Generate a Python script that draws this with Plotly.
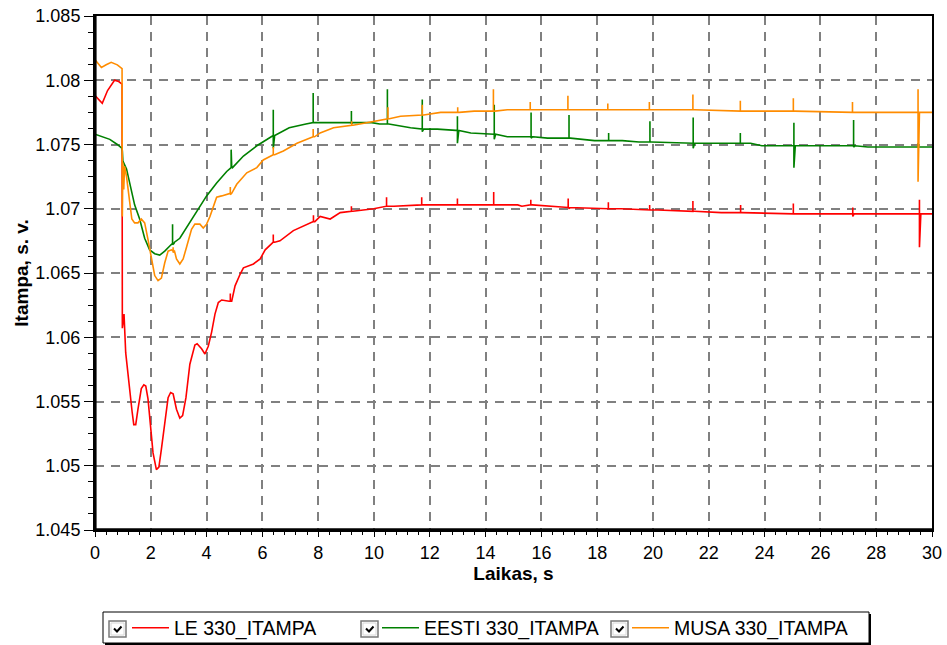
import plotly.graph_objects as go

# ---------------------------------------------------------------- data
# LE 330 bus voltage, p.u.
le_t = [0, 0.26, 0.45, 0.7, 0.85, 0.97, 0.98, 1.04, 1.10, 1.18, 1.24, 1.33, 1.39, 1.46,
        1.54, 1.66, 1.75, 1.82, 1.90, 1.99, 2.08, 2.20, 2.29, 2.38, 2.50, 2.62, 2.71,
        2.80, 2.92, 3.04, 3.14, 3.26, 3.40, 3.58, 3.66, 3.82, 3.94, 4.06, 4.18, 4.30,
        4.42, 4.54, 4.81, 5.02, 5.20, 5.32, 5.68, 5.92, 6.10, 6.39, 6.63, 7.11, 7.41,
        7.83, 8.07, 8.43, 8.79, 9.63, 9.99, 10.71, 11.91, 15.15, 15.3, 16.82, 17.0,
        18.86, 20.17, 22.45, 30]
le_v = [1.0788, 1.0782, 1.0792, 1.0800, 1.0799, 1.0797, 1.0607, 1.0618, 1.0588, 1.0571,
        1.0557, 1.0542, 1.0532, 1.0532, 1.0544, 1.0560, 1.0563, 1.0562, 1.0552, 1.0528,
        1.0510, 1.0497, 1.0499, 1.0513, 1.0534, 1.0553, 1.0557, 1.0556, 1.0544, 1.0537,
        1.0539, 1.0553, 1.0579, 1.0594, 1.0595, 1.0591, 1.0587, 1.0593, 1.0604, 1.0618,
        1.0627, 1.0629, 1.0628, 1.0640, 1.0649, 1.0654, 1.0657, 1.0661, 1.0668, 1.0674,
        1.0675, 1.0683, 1.0686, 1.0690, 1.0694, 1.0692, 1.0697, 1.0699, 1.0700, 1.0702,
        1.0703, 1.0703, 1.0702, 1.0701, 1.0700, 1.0700, 1.0699, 1.0697, 1.0696]
# switching transients: time, level, peak, trough
le_sp_t = [4.85, 6.39, 7.83, 9.19, 10.45, 11.71, 12.99, 14.29, 15.62, 16.96, 18.40,
           19.88, 21.43, 23.14, 25.03, 27.16, 29.55]
le_sp_b = [1.0628, 1.0674, 1.0690, 1.0698, 1.0702, 1.0703, 1.0703, 1.0703, 1.0703,
           1.0701, 1.0700, 1.0699, 1.0698, 1.0697, 1.0696, 1.0696, 1.0696]
le_sp_h = [1.0634, 1.0680, 1.0695, 1.0702, 1.0709, 1.0709, 1.0708, 1.0713, 1.0707,
           1.0708, 1.0705, 1.0703, 1.0706, 1.0703, 1.0704, 1.0701, 1.0707]
le_sp_l = [1.0628, 1.0674, 1.0690, 1.0698, 1.0702, 1.0703, 1.0703, 1.0703, 1.0703,
           1.0701, 1.0700, 1.0699, 1.0698, 1.0697, 1.0696, 1.0694, 1.0670]

# EESTI 330 bus voltage, p.u.
ee_t = [0, 0.53, 0.8, 0.97, 0.98, 1.0, 1.13, 1.24, 1.42, 1.60, 1.78, 1.96, 2.14, 2.32,
        2.50, 2.68, 2.85, 3.04, 3.28, 3.52, 3.76, 4.00, 4.36, 4.72, 4.90, 5.32, 5.80,
        6.39, 6.96, 7.56, 8.07, 9.63, 9.92, 10.2, 10.77, 11.31, 11.73, 12.27, 12.93,
        13.47, 14.3, 14.78, 15.7, 16.22, 17.9, 18.9, 19.5, 22.3, 23.5, 23.9, 26.8, 27.7, 30]
ee_v = [1.0758, 1.0754, 1.0750, 1.0747, 1.0745, 1.0737, 1.0731, 1.0720, 1.0703, 1.0692,
        1.0677, 1.0668, 1.0665, 1.0664, 1.0667, 1.0671, 1.0674, 1.0677, 1.0685, 1.0694,
        1.0702, 1.0710, 1.0720, 1.0729, 1.0733, 1.0741, 1.0749, 1.0757, 1.0763, 1.0766,
        1.0767, 1.0767, 1.0767, 1.0766, 1.0765, 1.0763, 1.0762, 1.0762, 1.0761, 1.0759,
        1.0758, 1.0756, 1.0756, 1.0755, 1.0753, 1.0753, 1.0752, 1.0751, 1.0751, 1.0749,
        1.0749, 1.0748, 1.0748]
ee_sp_t = [2.78, 4.88, 6.39, 7.82, 9.19, 10.48, 11.73, 12.99, 14.31, 15.63, 16.99,
           18.41, 19.89, 21.44, 23.13, 25.05, 27.19, 29.50]
ee_sp_b = [1.0673, 1.0732, 1.0757, 1.0767, 1.0767, 1.0766, 1.0762, 1.0761, 1.0758,
           1.0756, 1.0755, 1.0753, 1.0752, 1.0751, 1.0751, 1.0749, 1.0749, 1.0748]
ee_sp_h = [1.0688, 1.0746, 1.0777, 1.0790, 1.0776, 1.0793, 1.0785, 1.0772, 1.0781,
           1.0775, 1.0773, 1.0759, 1.0768, 1.0771, 1.0759, 1.0767, 1.0769, 1.0751]
ee_sp_l = [1.0672, 1.0732, 1.0747, 1.0767, 1.0766, 1.0766, 1.0760, 1.0751, 1.0754,
           1.0755, 1.0755, 1.0753, 1.0752, 1.0747, 1.0751, 1.0732, 1.0748, 1.0748]

# MUSA 330 bus voltage, p.u.
mu_t = [0, 0.1, 0.23, 0.4, 0.58, 0.8, 0.97, 0.98, 1.0, 1.03, 1.06, 1.13, 1.2, 1.32,
        1.42, 1.54, 1.66, 1.78, 1.90, 2.02, 2.14, 2.26, 2.38, 2.50, 2.62, 2.74, 2.92,
        3.04, 3.16, 3.28, 3.46, 3.58, 3.76, 3.88, 4.00, 4.12, 4.24, 4.36, 4.54, 4.72,
        5.08, 5.44, 5.80, 6.03, 6.39, 6.75, 7.24, 7.71, 8.07, 8.55, 9.15, 9.75, 10.45,
        10.95, 11.73, 12.39, 13.59, 14.78, 21.5, 23.2, 30]
mu_v = [1.0816, 1.0813, 1.0810, 1.0812, 1.0814, 1.0812, 1.0809, 1.0694, 1.0736, 1.0715,
        1.0733, 1.0725, 1.0712, 1.0692, 1.0689, 1.0689, 1.0692, 1.0689, 1.0676, 1.0661,
        1.0648, 1.0644, 1.0646, 1.0658, 1.0667, 1.0668, 1.0661, 1.0657, 1.0661, 1.0670,
        1.0684, 1.0688, 1.0688, 1.0685, 1.0688, 1.0694, 1.0702, 1.0709, 1.0710, 1.0711,
        1.0719, 1.0728, 1.0732, 1.0738, 1.0742, 1.0745, 1.0751, 1.0755, 1.0759, 1.0763,
        1.0765, 1.0767, 1.0770, 1.0772, 1.0773, 1.0775, 1.0776, 1.0777, 1.0777, 1.0776,
        1.0775]
mu_sp_t = [2.80, 4.85, 6.39, 7.82, 9.20, 10.50, 11.73, 13.00, 14.28, 15.60, 16.95,
           18.38, 19.87, 21.43, 23.13, 25.03, 27.15, 29.50]
mu_sp_b = [1.0667, 1.0712, 1.0742, 1.0756, 1.0765, 1.0770, 1.0773, 1.0775, 1.0776,
           1.0777, 1.0777, 1.0777, 1.0777, 1.0777, 1.0776, 1.0776, 1.0775, 1.0775]
mu_sp_h = [1.0670, 1.0717, 1.0748, 1.0762, 1.0768, 1.0779, 1.0781, 1.0779, 1.0793,
           1.0783, 1.0788, 1.0782, 1.0783, 1.0789, 1.0784, 1.0786, 1.0783, 1.0793]
mu_sp_l = [1.0666, 1.0711, 1.0742, 1.0756, 1.0765, 1.0770, 1.0773, 1.0775, 1.0776,
           1.0777, 1.0777, 1.0777, 1.0777, 1.0777, 1.0776, 1.0776, 1.0775, 1.0721]

series_names = ["LE 330_ITAMPA", "EESTI 330_ITAMPA", "MUSA 330_ITAMPA"]
series_colors = ["#ff0000", "#008000", "#ff8c00"]

x_ticks = list(range(0, 31, 2))
y_ticks = [1.045, 1.05, 1.055, 1.06, 1.065, 1.07, 1.075, 1.08, 1.085]
y_ticktext = ["1.045", "1.05", "1.055", "1.06", "1.065", "1.07", "1.075", "1.08", "1.085"]


def with_spikes(t, v, st, sb, sh, sl):
    """Merge the smooth trajectory with vertical switching spikes."""
    pts = [(a, 0, i, b) for i, (a, b) in enumerate(zip(t, v))]
    for k, (a, b, h, l) in enumerate(zip(st, sb, sh, sl)):
        pts += [(a, 1, k * 4 + 0, b), (a, 1, k * 4 + 1, h),
                (a, 1, k * 4 + 2, l), (a + 0.05, 1, k * 4 + 3, b)]
    pts.sort(key=lambda p: (p[0], p[1], p[2]))
    return [p[0] for p in pts], [p[3] for p in pts]


data = [
    with_spikes(le_t, le_v, le_sp_t, le_sp_b, le_sp_h, le_sp_l),
    with_spikes(ee_t, ee_v, ee_sp_t, ee_sp_b, ee_sp_h, ee_sp_l),
    with_spikes(mu_t, mu_v, mu_sp_t, mu_sp_b, mu_sp_h, mu_sp_l),
]

# ---------------------------------------------------------------- figure
W, H = 947, 645
L, R, T, B = 95, 932, 16, 530          # plot area in pixels


def px(x):
    return (x - L) / (R - L)


def py(y):
    return (B - y) / (B - T)


FONT = "Liberation Sans, Arial, sans-serif"

fig = go.Figure()
for (xs, ys), name, col in zip(data, series_names, series_colors):
    fig.add_trace(go.Scatter(x=xs, y=ys, mode="lines", name=name,
                             line=dict(color=col, width=1.6)))

grid = dict(showgrid=True, gridcolor="#808080", gridwidth=1.6, griddash="9px,7px",
            showline=True, linecolor="black", linewidth=2, mirror=True,
            ticks="outside", tickcolor="black", zeroline=False,
            tickfont=dict(family=FONT, size=18, color="black"))

fig.update_xaxes(range=[0, 30], tickvals=x_ticks, ticklen=5, tickwidth=1,
                 minor=dict(dtick=0.4, ticklen=3, tickcolor="black", ticks="outside"),
                 title=dict(text="<b>Laikas, s</b>", standoff=5,
                            font=dict(family=FONT, size=19, color="black")),
                 **grid)
fig.update_yaxes(range=[1.045, 1.085], tickvals=y_ticks, ticktext=y_ticktext,
                 ticklen=9, tickwidth=1,
                 minor=dict(dtick=0.00125, tick0=1.045, ticklen=5,
                            tickcolor="black", ticks="outside"),
                 title=dict(text="<b>Itampa, s. v.</b>", standoff=2,
                            font=dict(family=FONT, size=19, color="black")),
                 **grid)

shapes = []
# heavier left and bottom axis lines
shapes.append(dict(type="line", xref="paper", yref="paper", x0=0, x1=0, y0=0, y1=1,
                   line=dict(color="black", width=3.2)))
shapes.append(dict(type="line", xref="paper", yref="paper", x0=0, x1=1, y0=0, y1=0,
                   line=dict(color="black", width=3.4)))

# legend frame with drop shadow
lx0, lx1, ly0, ly1 = 103, 869, 612, 643
shapes.append(dict(type="rect", xref="paper", yref="paper", x0=px(lx0), x1=px(lx1),
                   y0=py(ly1), y1=py(ly0), line=dict(color="black", width=1),
                   fillcolor="white", layer="below"))
shapes.append(dict(type="line", xref="paper", yref="paper", x0=px(lx1 + 1), x1=px(lx1 + 1),
                   y0=py(ly1 + 1), y1=py(ly0 + 2), line=dict(color="black", width=2)))
shapes.append(dict(type="line", xref="paper", yref="paper", x0=px(lx0 + 2), x1=px(lx1 + 2),
                   y0=py(ly1 + 1), y1=py(ly1 + 1), line=dict(color="black", width=2)))

# check boxes in front of each legend entry
for cx in (109, 361, 611):
    cy = 621
    shapes.append(dict(type="rect", xref="paper", yref="paper",
                       x0=px(cx), x1=px(cx + 17), y0=py(cy + 16), y1=py(cy),
                       line=dict(color="#7a7a7a", width=1.5), fillcolor="white"))
    shapes.append(dict(type="rect", xref="paper", yref="paper",
                       x0=px(cx + 2), x1=px(cx + 15), y0=py(cy + 14), y1=py(cy + 2),
                       line=dict(color="#d8d8d8", width=1), fillcolor="white"))
    path = "M {:.5f} {:.5f} L {:.5f} {:.5f} L {:.5f} {:.5f}".format(
        px(cx + 5), py(cy + 7.5), px(cx + 8), py(cy + 10.5), px(cx + 12.5), py(cy + 5.5))
    shapes.append(dict(type="path", xref="paper", yref="paper", path=path,
                       line=dict(color="black", width=2)))

fig.update_layout(
    width=W, height=H,
    margin=dict(l=L, r=W - R, t=T, b=H - B, autoexpand=False),
    paper_bgcolor="white", plot_bgcolor="white",
    font=dict(family=FONT, size=18, color="black"),
    showlegend=True,
    legend=dict(orientation="h", x=px(127), xanchor="left", y=py(628), yanchor="middle",
                bgcolor="rgba(0,0,0,0)", borderwidth=0, entrywidth=198,
                entrywidthmode="pixels", itemwidth=37, tracegroupgap=0,
                font=dict(family=FONT, size=19.5, color="black")),
    shapes=shapes,
)

fig.write_html("out.html")
